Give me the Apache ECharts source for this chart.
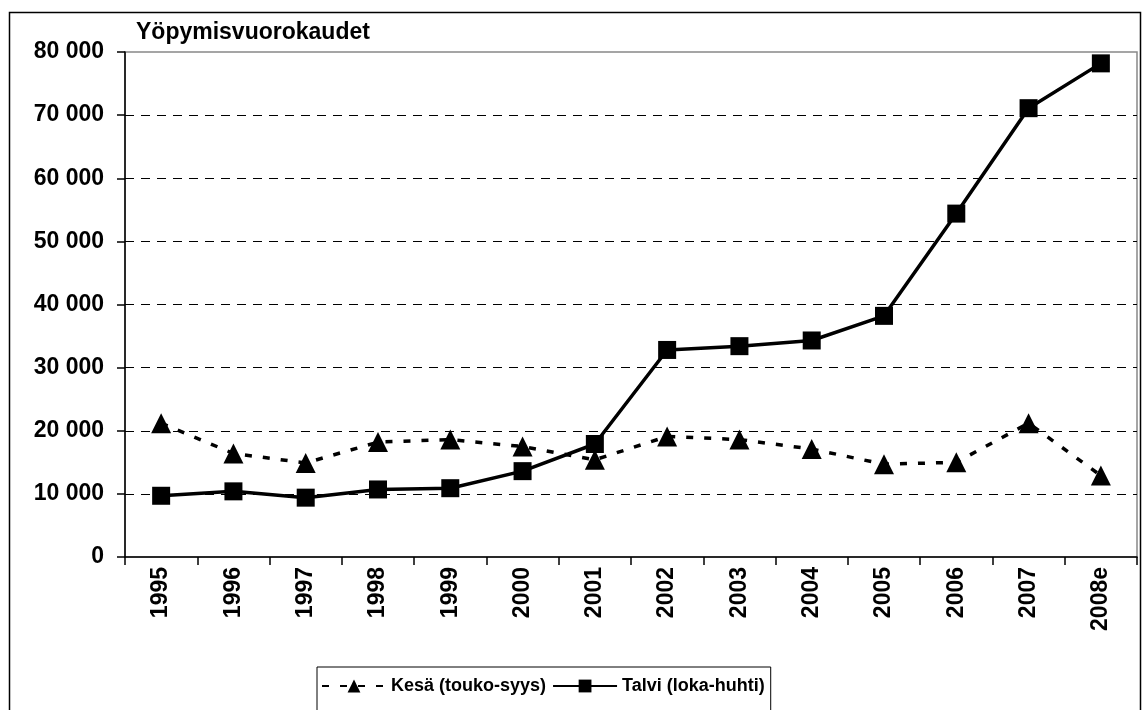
<!DOCTYPE html>
<html>
<head>
<meta charset="utf-8">
<script src="https://cdn.jsdelivr.net/npm/echarts@6/dist/echarts.min.js"></script>
<style>
  html, body { margin: 0; padding: 0; background: #fff; }
  #chart { width: 1144px; height: 710px; }
</style>
</head>
<body>
<div id="chart"></div>
<script>
var years = ['1995', '1996', '1997', '1998', '1999', '2000', '2001', '2002', '2003', '2004', '2005', '2006', '2007', '2008e'];
var kesa = [21200, 16400, 14900, 18200, 18600, 17500, 15400, 19100, 18600, 17100, 14700, 15000, 21200, 12900];
var talvi = [9700, 10400, 9400, 10700, 10900, 13600, 17900, 32800, 33400, 34300, 38200, 54400, 71100, 78200];
var yTicks = [0, 10000, 20000, 30000, 40000, 50000, 60000, 70000, 80000];

var font = '"Liberation Sans", Arial, sans-serif';

var myChart = echarts.init(document.getElementById('chart'));

var option = {
    backgroundColor: '#FFF',
    animation: false,
    title: {
        text: 'Yöpymisvuorokaudet',
        left: 131,
        top: 16,
        textStyle: { fontFamily: font, fontWeight: 'bold', fontSize: 23, color: '#000' }
    },
    graphic: [
        {
            type: 'rect',
            shape: { x: 9.5, y: 12.5, width: 1131, height: 720 },
            style: { fill: null, stroke: '#000', lineWidth: 1.5 },
            silent: true
        }
    ],
    legend: {
        left: 317,
        top: 667,
        padding: [10, 6, 30, 4],
        itemGap: 6,
        itemWidth: 64,
        itemHeight: 16,
        borderColor: '#000',
        borderWidth: 1,
        textStyle: { fontFamily: font, fontWeight: 'bold', fontSize: 18, color: '#000' },
        data: ['Kesä (touko-syys)', 'Talvi (loka-huhti)']
    },
    grid: {
        left: 125,
        right: 7,
        top: 52,
        bottom: 153,
        show: true,
        borderColor: '#888',
        borderWidth: 1.5
    },
    xAxis: {
        type: 'category',
        data: years,
        boundaryGap: true,
        axisLine: { lineStyle: { color: '#000', width: 1.5 } },
        axisTick: { show: true, length: 8, lineStyle: { color: '#000', width: 1.5 } },
        axisLabel: {
            rotate: 90,
            margin: 10,
            fontFamily: font,
            fontWeight: 'bold',
            fontSize: 23,
            color: '#000',
            interval: 0
        },
        splitLine: { show: false }
    },
    yAxis: {
        type: 'value',
        min: yTicks[0],
        max: yTicks[yTicks.length - 1],
        interval: 10000,
        axisLine: { show: true, lineStyle: { color: '#000', width: 1.5 } },
        axisTick: { show: true, length: 8, lineStyle: { color: '#000', width: 1.5 } },
        axisLabel: {
            margin: 21,
            fontFamily: font,
            fontWeight: 'bold',
            fontSize: 23,
            color: '#000',
            formatter: function (v) {
                return String(v).replace(/\B(?=(\d{3})+(?!\d))/g, ' ');
            }
        },
        splitLine: {
            show: true,
            showMinLine: false,
            showMaxLine: false,
            lineStyle: { color: '#000', width: 1, type: [9, 7] }
        }
    },
    series: [
        {
            name: 'Kesä (touko-syys)',
            type: 'line',
            data: kesa,
            symbol: 'triangle',
            symbolSize: 20,
            itemStyle: { color: '#000' },
            lineStyle: { color: '#000', width: 3.5, type: [7, 11] },
            z: 3
        },
        {
            name: 'Talvi (loka-huhti)',
            type: 'line',
            data: talvi,
            symbol: 'rect',
            symbolSize: 18,
            itemStyle: { color: '#000' },
            lineStyle: { color: '#000', width: 3.5 },
            z: 4
        }
    ]
};

myChart.setOption(option);
</script>
</body>
</html>
